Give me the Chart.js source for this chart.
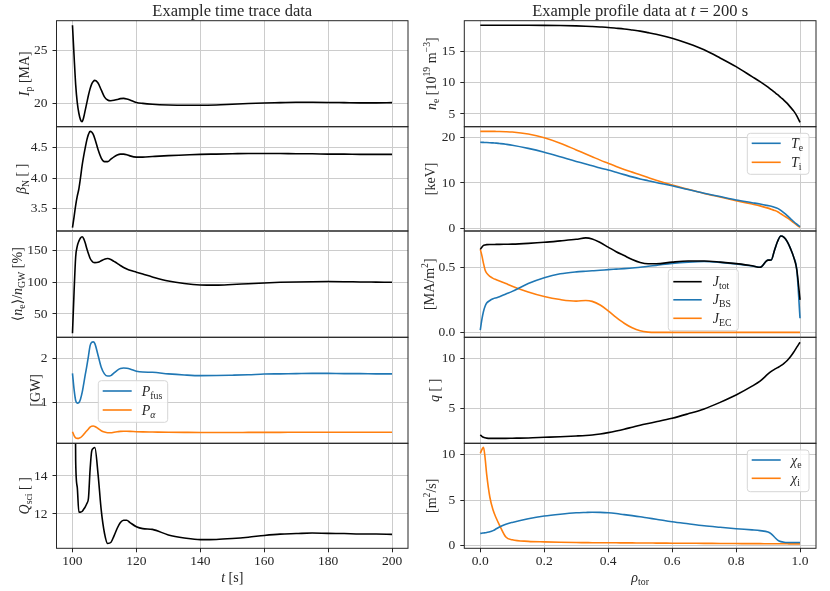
<!DOCTYPE html>
<html><head><meta charset="utf-8">
<script src="https://cdn.jsdelivr.net/npm/chart.js@4.4.0/dist/chart.umd.min.js"></script>
<style>
html,body{margin:0;padding:0;background:#fff;}
#wrap{position:relative;width:830px;height:591px;overflow:hidden;background:#fff;}
#wrap canvas{position:absolute;left:0;top:0;}
</style></head><body><div id="wrap"></div>
<script>
// ---------------- DATA ----------------
const timeS = [100,100.5,101,101.5,102,102.5,103,103.5,104,104.5,105,105.5,106,106.5,107,108,109,110,111,112,113,114,115,116,117,118,120,122,125,130,135,140,145,150,155,160,165,170,175,180,185,190,195,200];
const plasmaCurrentMA = [27.4,24.5,21.8,20.1,19.1,18.5,18.3,18.7,19.4,20.1,20.8,21.4,21.85,22.1,22.2,21.95,21.3,20.65,20.35,20.28,20.32,20.4,20.48,20.5,20.45,20.35,20.12,20.03,19.95,19.88,19.85,19.85,19.88,19.95,20.02,20.07,20.1,20.13,20.13,20.12,20.1,20.08,20.08,20.1];
const betaN = [3.18,3.36,3.55,3.7,3.82,4.0,4.2,4.36,4.5,4.63,4.72,4.77,4.76,4.72,4.65,4.47,4.33,4.27,4.27,4.31,4.35,4.38,4.395,4.395,4.385,4.365,4.345,4.345,4.355,4.37,4.38,4.39,4.395,4.40,4.405,4.405,4.405,4.40,4.40,4.395,4.395,4.39,4.39,4.39];
const greenwaldFractionPct = [19.5,85,140,157,165,170,172,169,162,153,145,138,134,131.5,131,131.5,134,136.5,137.5,136,133,130,126.5,123.5,121,119,116,113,108.5,102,98,95.8,95.5,96.5,97.8,99,100,100.6,101,101.2,101,100.6,100.3,100];
const fusionPowerGW = [1.66,1.3,1.05,0.99,1.0,1.08,1.22,1.42,1.63,1.83,2.05,2.28,2.36,2.37,2.33,2.07,1.8,1.65,1.6,1.61,1.67,1.73,1.77,1.78,1.775,1.76,1.71,1.69,1.685,1.65,1.625,1.61,1.612,1.62,1.63,1.645,1.65,1.655,1.66,1.66,1.655,1.655,1.65,1.65];
const alphaPowerGW = [0.347,0.26,0.21,0.198,0.198,0.215,0.245,0.285,0.33,0.37,0.41,0.45,0.47,0.475,0.465,0.42,0.37,0.34,0.325,0.325,0.335,0.345,0.355,0.358,0.357,0.355,0.347,0.343,0.34,0.335,0.332,0.33,0.33,0.33,0.331,0.332,0.333,0.334,0.335,0.335,0.335,0.335,0.335,0.335];
const qSci = [40,28,14.8,13.4,12.1,12.1,12.13,12.25,12.38,12.55,12.83,14.3,15.3,15.45,15.5,14.1,12.2,11.0,10.45,10.5,10.85,11.25,11.55,11.67,11.67,11.55,11.33,11.23,11.19,10.9,10.74,10.65,10.66,10.71,10.78,10.87,10.94,10.97,11.0,10.98,10.97,10.95,10.95,10.93];

const rhoTor = [0,0.005,0.01,0.015,0.02,0.03,0.04,0.05,0.06,0.08,0.1,0.15,0.2,0.25,0.3,0.33,0.35,0.375,0.4,0.425,0.45,0.475,0.5,0.525,0.55,0.6,0.65,0.7,0.75,0.8,0.85,0.875,0.9,0.91,0.92,0.93,0.94,0.95,0.96,0.97,0.98,0.99,1.0];
const electronDensity = [19.24,19.24,19.24,19.24,19.24,19.24,19.24,19.24,19.24,19.24,19.24,19.24,19.23,19.2,19.15,19.1,19.05,18.98,18.9,18.78,18.65,18.48,18.3,18.06,17.8,17.15,16.3,15.3,14.0,12.6,11.0,10.2,9.3,8.9,8.5,8.1,7.65,7.2,6.7,6.1,5.5,4.7,3.67];
const electronTempKeV = [18.98,18.97,18.96,18.95,18.94,18.9,18.85,18.8,18.72,18.55,18.35,17.65,16.8,15.8,14.75,14.2,13.8,13.3,12.85,12.35,11.85,11.35,10.9,10.5,10.1,9.4,8.55,7.75,7.0,6.25,5.65,5.35,5.0,4.85,4.65,4.4,3.95,3.4,2.8,2.15,1.5,0.9,0.35];
const ionTempKeV = [21.4,21.4,21.4,21.4,21.4,21.4,21.4,21.38,21.37,21.33,21.25,20.8,20.0,18.8,17.3,16.4,15.8,15.05,14.35,13.65,13.0,12.4,11.8,11.2,10.6,9.55,8.6,7.7,6.9,6.1,5.35,4.95,4.45,4.2,3.95,3.65,3.2,2.75,2.3,1.8,1.25,0.7,0.2];
const currentTotal = [0.638,0.655,0.668,0.672,0.674,0.675,0.675,0.676,0.676,0.677,0.678,0.684,0.692,0.703,0.715,0.726,0.718,0.69,0.655,0.62,0.59,0.56,0.537,0.527,0.527,0.54,0.548,0.548,0.54,0.528,0.512,0.5,0.555,0.556,0.63,0.7,0.74,0.73,0.697,0.645,0.58,0.48,0.25];
const currentBootstrap = [0.018,0.1,0.16,0.2,0.225,0.245,0.258,0.266,0.274,0.295,0.315,0.375,0.42,0.45,0.465,0.47,0.473,0.477,0.482,0.486,0.49,0.495,0.5,0.508,0.515,0.53,0.54,0.545,0.538,0.526,0.51,0.5,0.555,0.556,0.63,0.7,0.74,0.73,0.697,0.645,0.58,0.48,0.108];
const currentEC = [0.638,0.59,0.53,0.48,0.455,0.43,0.415,0.405,0.395,0.375,0.355,0.31,0.275,0.252,0.24,0.245,0.238,0.21,0.165,0.115,0.07,0.035,0.012,0.002,0,0,0,0,0,0,0,0,0,0,0,0,0,0,0,0,0,0,0];
const safetyFactor = [2.43,2.3,2.2,2.15,2.12,2.1,2.1,2.1,2.1,2.1,2.11,2.14,2.2,2.26,2.33,2.38,2.43,2.53,2.66,2.82,3.0,3.2,3.4,3.57,3.73,4.08,4.52,5.0,5.65,6.38,7.25,7.75,8.45,8.7,8.9,9.08,9.27,9.5,9.78,10.15,10.6,11.1,11.58];
const chiElectron = [1.35,1.37,1.4,1.42,1.45,1.52,1.65,1.85,2.05,2.35,2.55,2.95,3.25,3.45,3.6,3.64,3.66,3.65,3.61,3.52,3.4,3.29,3.17,3.03,2.9,2.62,2.4,2.19,2.02,1.86,1.73,1.65,1.5,1.3,0.95,0.62,0.45,0.38,0.36,0.36,0.36,0.36,0.36];
const chiIon = [10.1,10.5,10.77,9.6,7.8,5.3,3.9,3.0,2.26,0.95,0.65,0.48,0.42,0.38,0.35,0.34,0.33,0.33,0.32,0.32,0.31,0.31,0.3,0.3,0.29,0.28,0.27,0.26,0.25,0.24,0.23,0.23,0.22,0.22,0.22,0.22,0.21,0.21,0.21,0.2,0.2,0.2,0.2];

// tick values
const timeTicks = [100,120,140,160,180,200];
const rhoTicks = [0,0.2,0.4,0.6,0.8,1.0];
const ipTicks = [20,25];
const betaTicks = [3.5,4.0,4.5];
const densFracTicks = [50,100,150];
const powerTicks = [1,2];
const qSciTicks = [12,14];
const neTicks = [5,10,15];
const tempTicks = [0,10,20];
const currentTicks = [0.0,0.5];
const qTicks = [5,10];
const chiTicks = [0,5,10];

// ---------------- STYLE ----------------
const FAM = '"Liberation Serif", "DejaVu Serif", serif';
const FS = 13.5;   // tick font
const LS = 14;     // axis label font
const TS = 16.5;   // title font
const BLUE = '#1f77b4', ORANGE = '#ff7f0e', BLACK = '#000000';
const GRID = '#cccccc', FRAME = '#262626', TEXT = '#262626';
const W = 830, H = 591, YW = 50, XH = 40;
const LEFT = {l:56.5, r:408}, RIGHT = {l:464.3, r:816};
const ROWS = [20.7,126.7,231,337.3,443.3,548.3];

function segFont(s, size){
  const st = s[1] || '';
  const it = st.indexOf('i')>=0;
  const sub = st.indexOf('_')>=0, sup = st.indexOf('^')>=0;
  const sz = (sub||sup) ? size*0.7 : size;
  return {font:(it?'italic ':'')+sz.toFixed(1)+'px '+FAM, dy: sub ? size*0.22 : (sup ? -size*0.38 : 0)};
}
function drawRich(ctx, segs, x, y, size, align){
  let w = 0; const ms = [];
  for (const s of segs){ const f = segFont(s,size); ctx.font = f.font; const m = ctx.measureText(s[0]).width; ms.push([f,m]); w += m; }
  let cx = align==='center' ? x - w/2 : (align==='right' ? x - w : x);
  ctx.textAlign = 'left'; ctx.textBaseline = 'alphabetic';
  segs.forEach((s,i)=>{ ctx.font = ms[i][0].font; ctx.fillText(s[0], cx, y + ms[i][0].dy); cx += ms[i][1]; });
}
function drawRotated(ctx, segs, cx, cy, size){
  ctx.save(); ctx.translate(cx, cy); ctx.rotate(-Math.PI/2);
  drawRich(ctx, segs, 0, size*0.33, size, 'center'); ctx.restore();
}

const panels = [
  {col:LEFT,row:0,x:timeS,xr:[95,205],xt:timeTicks,xdec:0,series:[[plasmaCurrentMA,BLACK]],yr:[17.83,27.83],yt:ipTicks,dec:0,
   label:[['I','i'],['p','_'],[' [MA]','']],lx:24,
   title:[['Example time trace data','']]},
  {col:LEFT,row:1,x:timeS,xr:[95,205],xt:timeTicks,xdec:0,series:[[betaN,BLACK]],yr:[3.125,4.847],yt:betaTicks,dec:1,
   label:[['β','i'],['N','_'],[' [ ]','']],lx:21},
  {col:LEFT,row:2,x:timeS,xr:[95,205],xt:timeTicks,xdec:0,series:[[greenwaldFractionPct,BLACK]],yr:[13.2,181],yt:densFracTicks,dec:0,
   label:[['⟨',''],['n','i'],['e','_'],['⟩/',''],['n','i'],['GW','_'],[' [%]','']],lx:17},
  {col:LEFT,row:3,x:timeS,xr:[95,205],xt:timeTicks,xdec:0,series:[[fusionPowerGW,BLUE],[alphaPowerGW,ORANGE]],yr:[0.086,2.473],yt:powerTicks,dec:0,
   label:[['[GW]','']],lx:35,
   legend:{box:[98.3,380.7,69.4,41.6],l0:102.7,l1:131.7,tx:141.7,rows:[391,410],items:[[[['P','i'],['fus','_']],BLUE],[[['P','i'],['α','_i']],ORANGE]]}},
  {col:LEFT,row:4,x:timeS,xr:[95,205],xt:timeTicks,xdec:0,series:[[qSci,BLACK]],yr:[10.195,15.72],yt:qSciTicks,dec:0,
   label:[['Q','i'],['sci','_'],[' [ ]','']],lx:24,
   xlabel:[['t','i'],[' [s]','']]},
  {col:RIGHT,row:0,x:rhoTor,xr:[-0.05,1.05],xt:rhoTicks,xdec:1,series:[[electronDensity,BLACK]],yr:[2.96,19.98],yt:neTicks,dec:0,
   label:[['n','i'],['e','_'],[' [10',''],['19','^'],[' m',''],['−3','^'],[']','']],lx:431,
   title:[['Example profile data at ',''],['t','i'],[' = 200 s','']]},
  {col:RIGHT,row:1,x:rhoTor,xr:[-0.05,1.05],xt:rhoTicks,xdec:1,series:[[electronTempKeV,BLUE],[ionTempKeV,ORANGE]],yr:[-0.6,22.43],yt:tempTicks,dec:0,
   label:[['[keV]','']],lx:430,
   legend:{box:[747.3,133.3,61.7,41],l0:751.7,l1:780.7,tx:791,rows:[143.3,162.3],items:[[[['T','i'],['e','_']],BLUE],[[['T','i'],['i','_']],ORANGE]]}},
  {col:RIGHT,row:2,x:rhoTor,xr:[-0.05,1.05],xt:rhoTicks,xdec:1,series:[[currentTotal,BLACK],[currentBootstrap,BLUE],[currentEC,ORANGE]],yr:[-0.038,0.779],yt:currentTicks,dec:1,
   label:[['[MA/m',''],['2','^'],[']','']],lx:429,
   legend:{box:[668.3,269.3,70,61.4],l0:673.3,l1:701.7,tx:712.7,rows:[281.7,299.8,318.3],items:[[[['J','i'],['tot','_']],BLACK],[[['J','i'],['BS','_']],BLUE],[[['J','i'],['EC','_']],ORANGE]]}},
  {col:RIGHT,row:3,x:rhoTor,xr:[-0.05,1.05],xt:rhoTicks,xdec:1,series:[[safetyFactor,BLACK]],yr:[1.61,12.07],yt:qTicks,dec:0,
   label:[['q','i'],[' [ ]','']],lx:434},
  {col:RIGHT,row:4,x:rhoTor,xr:[-0.05,1.05],xt:rhoTicks,xdec:1,series:[[chiElectron,BLUE],[chiIon,ORANGE]],yr:[-0.28,11.2],yt:chiTicks,dec:0,
   label:[['[m',''],['2','^'],['/s]','']],lx:431,
   xlabel:[['ρ','i'],['tor','_']],
   legend:{box:[747.3,450,61.7,41.7],l0:751.7,l1:780.7,tx:791,rows:[460,478.3],items:[[[['χ','i'],['e','_']],BLUE],[[['χ','i'],['i','_']],ORANGE]]}}
];

function roundRect(ctx,x,y,w,h,r){
  ctx.beginPath(); ctx.moveTo(x+r,y); ctx.lineTo(x+w-r,y); ctx.arcTo(x+w,y,x+w,y+r,r);
  ctx.lineTo(x+w,y+h-r); ctx.arcTo(x+w,y+h,x+w-r,y+h,r); ctx.lineTo(x+r,y+h); ctx.arcTo(x,y+h,x,y+h-r,r);
  ctx.lineTo(x,y+r); ctx.arcTo(x,y,x+r,y,r); ctx.closePath();
}

const wrap = document.getElementById('wrap');
panels.forEach((p, idx) => {
  const cv = document.createElement('canvas');
  cv.width = W; cv.height = H; cv.style.width = W+'px'; cv.style.height = H+'px';
  wrap.appendChild(cv);
  const top = ROWS[p.row], bottom = ROWS[p.row+1];
  const isBottom = p.row === 4;
  const xh = isBottom ? XH : 0;
  const decor = {
    id:'decor'+idx,
    afterDraw(chart){
      const ctx = chart.ctx, a = chart.chartArea;
      ctx.save();
      if (p.legend){
        const L = p.legend;
        roundRect(ctx, L.box[0], L.box[1], L.box[2], L.box[3], 3);
        ctx.fillStyle = 'rgba(255,255,255,0.8)'; ctx.fill();
        ctx.strokeStyle = '#d6d6d6'; ctx.lineWidth = 1; ctx.stroke();
        L.items.forEach((it, k) => {
          const y = L.rows[k];
          ctx.strokeStyle = it[1]; ctx.lineWidth = 1.6;
          ctx.beginPath(); ctx.moveTo(L.l0, y); ctx.lineTo(L.l1, y); ctx.stroke();
          ctx.fillStyle = TEXT;
          drawRich(ctx, it[0], L.tx, y + 4.5, LS, 'left');
        });
      }
      ctx.strokeStyle = FRAME; ctx.lineWidth = 1;
      ctx.strokeRect(a.left, a.top, a.right - a.left, a.bottom - a.top);
      ctx.fillStyle = TEXT;
      drawRotated(ctx, p.label, p.lx, (a.top + a.bottom)/2, LS);
      if (p.xlabel) drawRich(ctx, p.xlabel, (a.left + a.right)/2, 582, LS, 'center');
      if (p.title) drawRich(ctx, p.title, (a.left + a.right)/2, 15.5, TS, 'center');
      ctx.restore();
    }
  };
  new Chart(cv, {
    type:'line',
    data:{datasets: p.series.map(s => ({
      data: p.x.map((xv,i) => ({x:xv, y:s[0][i]})),
      borderColor:s[1], borderWidth:1.6, pointRadius:0, fill:false,
      cubicInterpolationMode:'monotone'
    }))},
    options:{
      responsive:false, animation:false, devicePixelRatio:1,
      events:[],
      layout:{padding:{left:p.col.l - YW, right:W - p.col.r, top:top, bottom:H - bottom - xh}},
      plugins:{legend:{display:false}, tooltip:{enabled:false}, title:{display:false}},
      scales:{
        x:{type:'linear', min:p.xr[0], max:p.xr[1],
           afterBuildTicks:(ax)=>{ ax.ticks = p.xt.map(v=>({value:v})); },
           afterFit:(ax)=>{ ax.height = xh; },
           ticks:{display:isBottom, autoSkip:false, maxRotation:0, padding:1, color:TEXT,
                  font:{family:FAM, size:FS}, callback:(v)=>Number(v).toFixed(p.xdec)},
           grid:{color:GRID, lineWidth:1, drawTicks:isBottom, tickLength:4, tickColor:FRAME, tickWidth:1},
           border:{display:false}},
        y:{type:'linear', min:p.yr[0], max:p.yr[1],
           afterBuildTicks:(ax)=>{ ax.ticks = p.yt.map(v=>({value:v})); },
           afterFit:(ax)=>{ ax.width = YW; },
           ticks:{autoSkip:false, padding:5, color:TEXT, font:{family:FAM, size:FS},
                  callback:(v)=>Number(v).toFixed(p.dec)},
           grid:{color:GRID, lineWidth:1, drawTicks:true, tickLength:4, tickColor:FRAME, tickWidth:1},
           border:{display:false}}
      }
    },
    plugins:[decor]
  });
});
</script></body></html>
